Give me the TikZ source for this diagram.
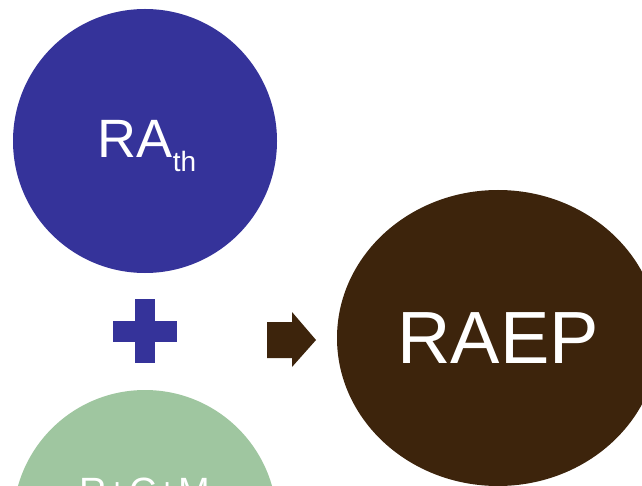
\documentclass[tikz,border=0pt]{standalone}
\usepackage{fontspec}
\setmainfont{Liberation Sans}
\usetikzlibrary{shapes.geometric}
\definecolor{raBlue}{HTML}{35339A}
\definecolor{rcmGreen}{HTML}{9FC6A0}
\definecolor{raepBrown}{HTML}{3D240C}
\tikzset{
	blob/.style={draw=none, inner sep=0pt},
	blobtext/.style={text=white, anchor=base, inner sep=0pt}
}

\begin{document}
\begin{tikzpicture}[x=1pt, y=-1pt]
			%%%%% START %%%%%
			\useasboundingbox (0, 0) rectangle (642, 486);
			\clip (0, 0) rectangle (642, 486);
			
			\node[blob, circle, fill=raBlue, minimum size=264pt] (rath) at (145, 141) {};
			\node[blob, circle, fill=rcmGreen, minimum size=264pt] (rcm) at (145, 522) {};
			\node[blob, ellipse, fill=raepBrown, minimum width=322pt, minimum height=296pt] (raep) at (498, 338) {};
			
			\node[blobtext, font=\fontsize{54}{54}\selectfont] (rathtext) at (147, 158) {RA\raisebox{-14pt}{\fontsize{28}{28}\selectfont th}};
			\node[blobtext, font=\fontsize{38}{38}\selectfont] (rcmtext) at (145, 504) {R+C+M};
			\node[blobtext, font=\fontsize{74}{74}\selectfont] (raeptext) at (498, 363) {RAEP};
			
			% plus sign
			\fill[raBlue] (135, 299) rectangle (155, 363);
			\fill[raBlue] (113, 321) rectangle (177, 342);
			
			% arrow
			\fill[raepBrown] (267, 322) -- (292, 322) -- (292, 312) -- (316, 340)
				-- (292, 367) -- (292, 358) -- (267, 358) -- cycle;
			
			%%%%% END %%%%%
\end{tikzpicture}
\end{document}
